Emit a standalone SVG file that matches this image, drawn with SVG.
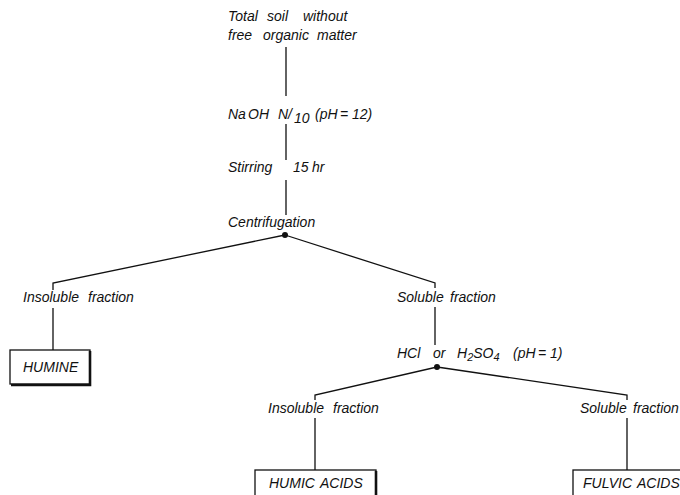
<svg xmlns="http://www.w3.org/2000/svg" width="680" height="495" viewBox="0 0 680 495">
<style>
text{font-family:"Liberation Sans",Arial,sans-serif;font-style:italic;font-size:14px;fill:#111}
.ln{stroke:#111;stroke-width:1.3;fill:none}
.box{stroke:#111;stroke-width:1.3;fill:#fff}
.sh{stroke:#111;stroke-width:2.6;fill:none}
.sub{font-size:11px}
</style>
<rect width="680" height="495" fill="#fff"/>
<g id="connectors">
<path class="ln" d="M286 47V96M286 124V160M286 180V215"/>
<path class="ln" d="M285 235L53 283V290M285 235L435 283V288"/>
<path class="ln" d="M53 308V350M435 307V345"/>
<path class="ln" d="M437 367L315 395V400M437 367L627 395V400"/>
<path class="ln" d="M315 418V470M627 418V470"/>
<circle cx="285" cy="235" r="3" fill="#111"/>
<circle cx="437" cy="367" r="3" fill="#111"/>
</g>
<g id="n-start">
<text y="21"><tspan x="228">Total</tspan><tspan x="267">soil</tspan><tspan x="303">without</tspan></text>
<text y="40"><tspan x="228">free</tspan><tspan x="263">organic</tspan><tspan x="317">matter</tspan></text>
</g>
<g id="n-naoh">
<text y="119"><tspan x="228">Na</tspan><tspan x="248">OH</tspan><tspan x="278">N/</tspan><tspan x="294" dy="4">10</tspan><tspan x="315" dy="-4">(pH</tspan><tspan x="340">=</tspan><tspan x="352">12)</tspan></text>
</g>
<g id="n-stirring">
<text y="172"><tspan x="228">Stirring</tspan><tspan x="293">15</tspan><tspan x="312">hr</tspan></text>
</g>
<g id="n-centrifugation">
<text x="228" y="227">Centrifugation</text>
</g>
<g id="n-insoluble1">
<text y="302"><tspan x="23">Insoluble</tspan><tspan x="88">fraction</tspan></text>
</g>
<g id="n-humine">
<rect class="box" x="10" y="350" width="80" height="34"/>
<path class="sh" d="M90 351V385H11"/>
<text x="23" y="372">HUMINE</text>
</g>
<g id="n-soluble1">
<text y="302"><tspan x="397">Soluble</tspan><tspan x="450">fraction</tspan></text>
</g>
<g id="n-acid">
<text y="358"><tspan x="397">HCl</tspan><tspan x="433">or</tspan><tspan x="457">H</tspan><tspan class="sub" dy="3">2</tspan><tspan dy="-3">SO</tspan><tspan class="sub" dy="3">4</tspan><tspan x="513" dy="-3">(pH</tspan><tspan x="538">=</tspan><tspan x="550">1)</tspan></text>
</g>
<g id="n-insoluble2">
<text y="413"><tspan x="268">Insoluble</tspan><tspan x="333">fraction</tspan></text>
</g>
<g id="n-soluble2">
<text y="413"><tspan x="580">Soluble</tspan><tspan x="633">fraction</tspan></text>
</g>
<g id="n-humic">
<rect class="box" x="255" y="470" width="121" height="40"/>
<path class="sh" d="M376 471V510"/>
<text y="488"><tspan x="269">HUMIC</tspan><tspan x="320">ACIDS</tspan></text>
</g>
<g id="n-fulvic">
<rect class="box" x="573" y="470" width="130" height="40"/>
<text y="488"><tspan x="583">FULVIC</tspan><tspan x="637">ACIDS</tspan></text>
</g>
</svg>
